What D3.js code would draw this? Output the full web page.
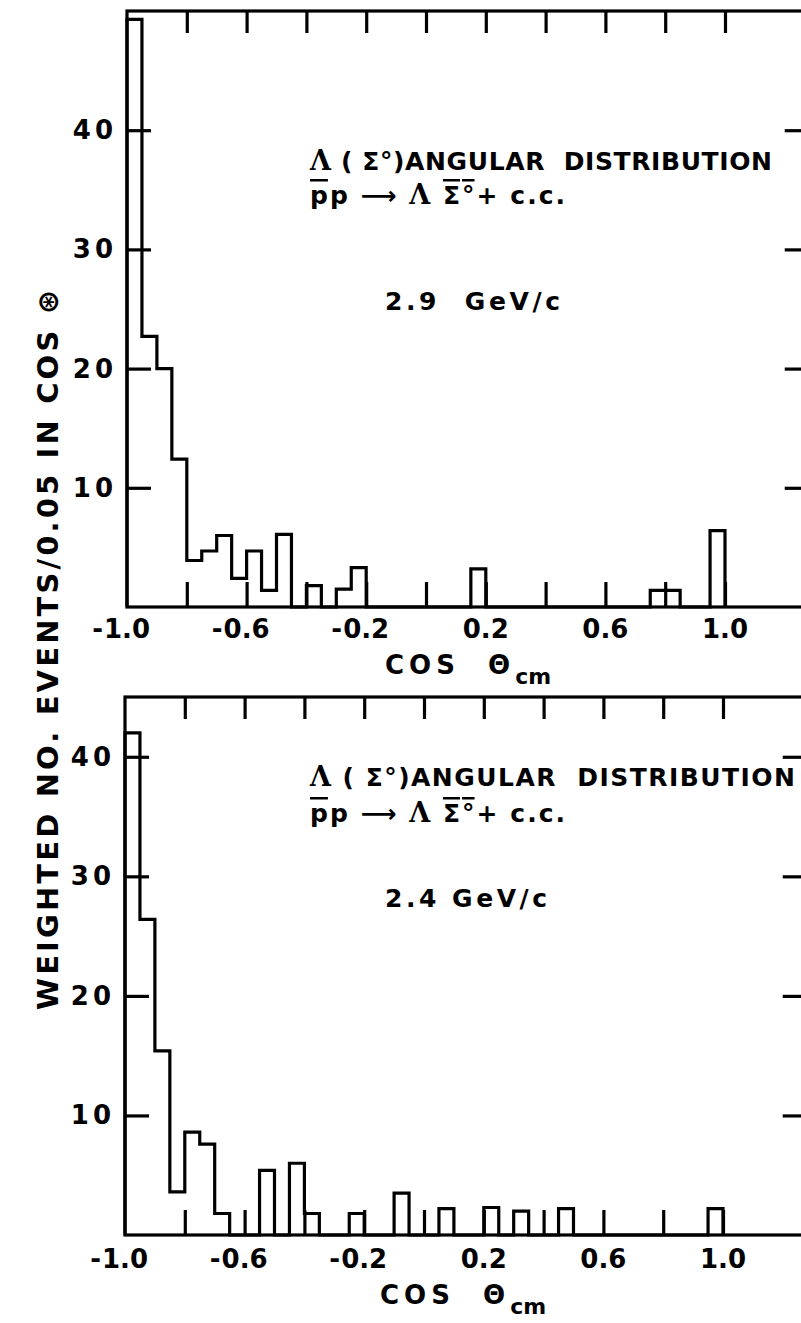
<!DOCTYPE html>
<html><head><meta charset="utf-8">
<script src="https://cdn.jsdelivr.net/npm/d3@7/dist/d3.min.js"></script>
<style>
body{margin:0;background:#fff}
svg{display:block}
text{white-space:pre}
</style>
</head><body>
<script>
// ---- data ----
const binStart = -1.0;
const binWidth = 0.05;
// weighted events per 0.05 bin, cos(theta) from -1.0 to 1.0 (40 bins)
const countsTop = [49.3, 22.7, 20.0, 12.4, 3.9, 4.7, 6.0, 2.4, 4.7, 1.4,
                   6.1, 0, 1.8, 0, 1.5, 3.3, 0, 0, 0, 0,
                   0, 0, 0, 3.2, 0, 0, 0, 0, 0, 0,
                   0, 0, 0, 0, 0, 1.4, 1.4, 0, 0, 6.4];
const countsBottom = [42.0, 26.4, 15.4, 3.6, 8.6, 7.6, 1.8, 0, 0, 5.4,
                      0, 6.0, 1.8, 0, 0, 1.8, 0, 0, 3.5, 0,
                      0, 2.2, 0, 0, 2.3, 0, 2.0, 0, 0, 2.2,
                      0, 0, 0, 0, 0, 0, 0, 0, 0, 2.2];
const xTickValues = [-0.8, -0.6, -0.4, -0.2, 0.0, 0.2, 0.4, 0.6, 0.8, 1.0];
const xLabelValues = [-1.0, -0.6, -0.2, 0.2, 0.6, 1.0];
const xLabelTexts = ["1.0", "0.6", "0.2", "0.2", "0.6", "1.0"];
const yTickValues = [10, 20, 30, 40];
const yTickLabels = ["10", "20", "30", "40"];
const momentumTop = "2.9  GeV/c";
const momentumBottom = "2.4 GeV/c";
const yTitle = "WEIGHTED NO. EVENTS/0.05 IN COS ⊛";

// ---- layout ----
const W = 801, H = 1323;
const svg = d3.select("body").append("svg").attr("width", W).attr("height", H);
const SANS = "'DejaVu Sans', sans-serif";
const SERIF = "'DejaVu Serif', serif";
const SW = 3.2;

function panel(cfg) {
  const x = d3.scaleLinear().domain([-1, 1.28]).range([cfg.left, cfg.left + 2.28 * 299]);
  const y = d3.scaleLinear().domain([0, cfg.ymax]).range([cfg.bottom, cfg.top]);
  const g = svg.append("g");

  // frame
  g.append("rect")
    .attr("x", x(-1)).attr("y", y(cfg.ymax))
    .attr("width", x(1.28) - x(-1)).attr("height", y(0) - y(cfg.ymax))
    .attr("fill", "none").attr("stroke", "#000").attr("stroke-width", SW);

  // ticks (inward)
  const styleAxis = sel => {
    sel.select(".domain").remove();
    sel.selectAll(".tick line").attr("stroke", "#000").attr("stroke-width", SW);
    sel.selectAll(".tick text").remove();
  };
  g.append("g").attr("transform", `translate(0,${y(0)})`)
    .call(d3.axisTop(x).tickValues(xTickValues).tickSize(25)).call(styleAxis);
  g.append("g").attr("transform", `translate(0,${y(cfg.ymax)})`)
    .call(d3.axisBottom(x).tickValues(xTickValues).tickSize(22)).call(styleAxis);
  g.append("g").attr("transform", `translate(${x(-1)},0)`)
    .call(d3.axisRight(y).tickValues(yTickValues).tickSize(24)).call(styleAxis);
  g.append("g").attr("transform", `translate(${x(1.28)},0)`)
    .call(d3.axisLeft(y).tickValues(yTickValues).tickSize(24)).call(styleAxis);

  // histogram outline (step)
  const pts = [[binStart, 0]];
  cfg.counts.forEach((c, i) => {
    const x0 = binStart + i * binWidth;
    pts.push([x0, c], [x0 + binWidth, c]);
  });
  pts.push([binStart + cfg.counts.length * binWidth, 0]);
  g.append("path")
    .attr("d", d3.line().x(d => x(d[0])).y(d => y(d[1]))(pts))
    .attr("fill", "none").attr("stroke", "#000").attr("stroke-width", SW)
    .attr("stroke-linejoin", "miter");

  // y tick labels
  yTickValues.forEach((v, i) => {
    g.append("text").attr("x", x(-1) - 10).attr("y", y(v))
      .attr("text-anchor", "end").attr("dominant-baseline", "central")
      .attr("font-family", SANS).attr("font-weight", "bold").attr("font-size", 26)
      .attr("letter-spacing", 4).text(yTickLabels[i]);
  });

  // x tick labels
  xLabelValues.forEach((v, i) => {
    const t = g.append("text").attr("x", x(v)).attr("y", cfg.labelY)
      .attr("text-anchor", "middle")
      .attr("font-family", SANS).attr("font-weight", "bold").attr("font-size", 26)
      .text(xLabelTexts[i]);
    if (v < 0) {
      const bb = t.node().getBBox();
      g.append("text").attr("x", bb.x - 1).attr("y", cfg.labelY)
        .attr("text-anchor", "end")
        .attr("font-family", SANS).attr("font-weight", "bold").attr("font-size", 26)
        .text("-");
    }
  });

  // x axis title
  const xt = g.append("text").attr("x", cfg.xTitleX).attr("y", cfg.xTitleY)
    .attr("font-family", SANS).attr("font-weight", "bold").attr("font-size", 26);
  xt.append("tspan").attr("letter-spacing", 5).text("COS  Θ");
  xt.append("tspan").attr("font-size", 22).attr("dy", 10).text("cm");

  // annotation
  const a1 = g.append("text").attr("x", 310).attr("y", cfg.a1y)
    .attr("font-family", SANS).attr("font-weight", "bold").attr("font-size", 25)
    .attr("textLength", cfg.a1w).attr("lengthAdjust", "spacing");
  a1.append("tspan").attr("font-family", SERIF).attr("font-size", 27).text("Λ");
  a1.append("tspan").text(" ( Σ°)ANGULAR  DISTRIBUTION");

  const a2 = g.append("text").attr("x", 310).attr("y", cfg.a2y)
    .attr("font-family", SANS).attr("font-weight", "bold").attr("font-size", 25)
    .attr("textLength", 255).attr("lengthAdjust", "spacing");
  a2.append("tspan").attr("text-decoration", "overline").text("p");
  a2.append("tspan").text("p ⟶ ");
  a2.append("tspan").attr("font-family", SERIF).attr("font-size", 27).text("Λ");
  a2.append("tspan").text(" ");
  a2.append("tspan").attr("text-decoration", "overline").text("Σ°");
  a2.append("tspan").text("+ c.c.");

  g.append("text").attr("x", 385).attr("y", cfg.a3y)
    .attr("font-family", SANS).attr("font-weight", "bold").attr("font-size", 25)
    .attr("textLength", cfg.a3w).attr("lengthAdjust", "spacing")
    .text(cfg.momentum);
}

panel({left: 127, top: 11, bottom: 607, ymax: 50, counts: countsTop,
       labelY: 638, xTitleX: 385, xTitleY: 674,
       a1y: 170, a1w: 462, a2y: 204, a3y: 310, a3w: 175, momentum: momentumTop});
panel({left: 125, top: 697, bottom: 1235, ymax: 45, counts: countsBottom,
       labelY: 1268, xTitleX: 380, xTitleY: 1304,
       a1y: 786, a1w: 485, a2y: 822, a3y: 907, a3w: 162, momentum: momentumBottom});

// y axis title
svg.append("text")
  .attr("transform", "translate(48,650) rotate(-90)")
  .attr("text-anchor", "middle").attr("dominant-baseline", "central")
  .attr("font-family", SANS).attr("font-weight", "bold").attr("font-size", 29)
  .attr("textLength", 720).attr("lengthAdjust", "spacing")
  .text(yTitle);
</script>
</body></html>
